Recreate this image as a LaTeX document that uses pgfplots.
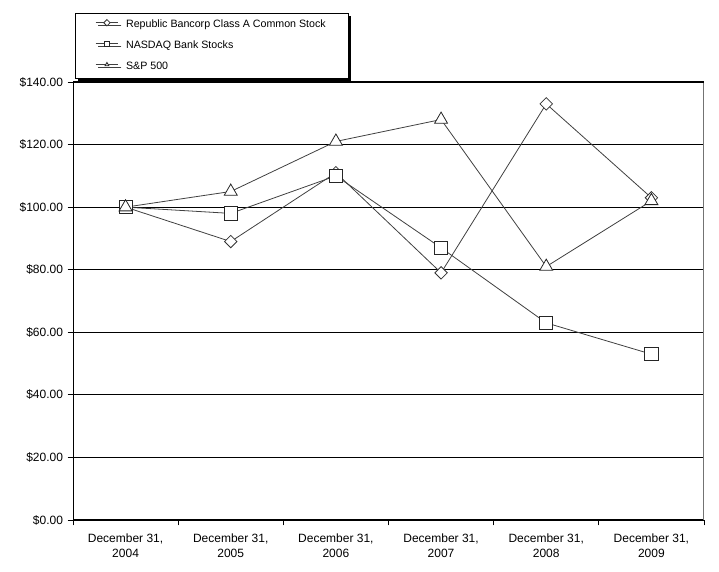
\documentclass[border=0pt]{standalone}
\usepackage{pgfplots}
\pgfplotsset{compat=1.18}
\usepackage{fontspec}
\setmainfont{Liberation Sans}
\usetikzlibrary{shadows}
\begin{document}
\begin{tikzpicture}[x=1pt,y=1pt]
\useasboundingbox (0,0) rectangle (539.25,429);
\begin{axis}[
  at={(54.75pt,39pt)}, anchor=south west,
  width=473.25pt, height=328.5pt, scale only axis,
  xmin=-0.5, xmax=5.5, ymin=0, ymax=140,
  xtick={0,1,2,3,4,5},
  xticklabels={{December 31,\\2004},{December 31,\\2005},{December 31,\\2006},{December 31,\\2007},{December 31,\\2008},{December 31,\\2009}},
  xticklabel style={align=center, font=\fontsize{9}{11.5}\selectfont, yshift=-2.5pt},
  major x tick style={draw=none},
  minor xtick={-0.5,0.5,1.5,2.5,3.5,4.5,5.5},
  minor tick length=4pt,
  major tick length=4pt,
  tick align=outside,
  tick pos=left,
  ytick={0,20,40,60,80,100,120,140},
  yticklabels={\$0.00,\$20.00,\$40.00,\$60.00,\$80.00,\$100.00,\$120.00,\$140.00},
  yticklabel style={font=\fontsize{9}{11}\selectfont},
  tick style={black, line width=0.6pt},
  ymajorgrids,
  grid style={black, line width=0.6pt},
  axis line style={draw=none},
  every axis plot/.append style={line width=0.6pt},
  legend cell align=left,
  legend style={at={(0.003,1.008)}, anchor=south west,
    font=\fontsize{8}{9.6}\selectfont, draw=black,
    inner xsep=15pt, inner ysep=3pt, row sep=4.5pt,
    drop shadow={shadow xshift=2.2pt, shadow yshift=-2.2pt, fill=black, opacity=1}},
  legend image code/.code={\draw[mark repeat=2,mark phase=2,#1,mark size=1.7pt] plot coordinates {(0cm,1.6pt)(0.3cm,1.6pt)(0.6cm,1.6pt)};
    \path (0.6cm+3.5pt,1.6pt);},
]
\draw[black, line width=0.75pt] (rel axis cs:0,0) -- (rel axis cs:1,0);
\draw[black, line width=0.75pt] (rel axis cs:0,0) -- (rel axis cs:0,1);
\draw[black!55, line width=0.75pt] (rel axis cs:1,0) -- (rel axis cs:1,1);
\draw[black, line width=2pt] (rel axis cs:0,1) -- (rel axis cs:1,1);
\addplot[color=black!75, mark=square*, mark size=3.3pt, mark options={rotate=45, fill=white, draw=black!80, line width=0.6pt}]
  coordinates {(0,100) (1,89) (2,111) (3,79) (4,133) (5,103)};
\addlegendentry{Republic Bancorp Class A Common Stock}
\addplot[color=black!75, mark=square*, mark size=4.9pt, mark options={fill=white, draw=black!85, line width=0.6pt}]
  coordinates {(0,100) (1,98) (2,110) (3,87) (4,63) (5,53)};
\addlegendentry{NASDAQ Bank Stocks}
\addplot[color=black!75, mark=triangle*, mark size=5.6pt, mark options={fill=white, draw=black!85, line width=0.6pt}]
  coordinates {(0,100) (1,105) (2,121) (3,128) (4,81) (5,102)};
\addlegendentry{S\&P 500}
\end{axis}
\end{tikzpicture}
\end{document}
